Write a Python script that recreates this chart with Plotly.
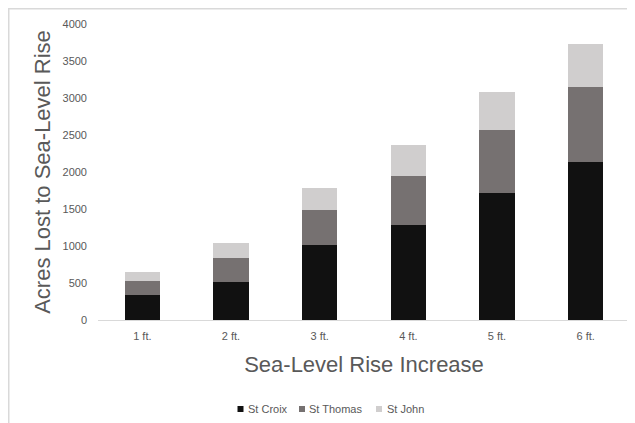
import plotly.graph_objects as go

categories = ["1 ft.", "2 ft.", "3 ft.", "4 ft.", "5 ft.", "6 ft."]
st_croix = [333, 513, 1013, 1279, 1711, 2130]
st_thomas = [191, 320, 477, 671, 860, 1014]
st_john = [121, 203, 298, 410, 513, 589]
y_ticks = [0, 500, 1000, 1500, 2000, 2500, 3000, 3500, 4000]

FONT = "Liberation Sans"
GRAY = "#595959"

series = [("St Croix", st_croix, "#111111"),
          ("St Thomas", st_thomas, "#767171"),
          ("St John", st_john, "#d0cece")]

fig = go.Figure()
for name, vals, col in series:
    fig.add_trace(go.Bar(x=categories, y=vals, name=name, marker_color=col,
                         marker_line_width=0, showlegend=False))

# figure is placed inside the page body (8px default margin)
W, H = 627, 415
L, R, T, B = 90, 5, 16, 103
pw = W - L - R
ph = H - T - B

fig.update_layout(
    template="none",
    width=W, height=H,
    barmode="stack", bargap=0.6,
    margin=dict(l=L, r=R, t=T, b=B),
    plot_bgcolor="white", paper_bgcolor="white",
    font=dict(family=FONT, color=GRAY, size=11),
    xaxis=dict(showgrid=False, showline=True, linecolor="#d9d9d9", linewidth=1,
               ticks="", tickfont=dict(size=11, color=GRAY), automargin=False,
               zeroline=False, ticklabelstandoff=6,
               title=dict(text="Sea-Level Rise Increase", font=dict(size=22, color=GRAY),
                          standoff=15)),
    yaxis=dict(range=[0, 4000], tickvals=y_ticks, showgrid=False, zeroline=False,
               showline=False, ticks="", tickfont=dict(size=11, color=GRAY),
               ticklabelstandoff=10, automargin=False,
               title=dict(text="Acres Lost to Sea-Level Rise", font=dict(size=22, color=GRAY),
                          standoff=5)),
    showlegend=False,
)

def px_x(px):
    return (px - L) / pw

def px_y(py):
    return (H - B - py) / ph

# chart border (top and left edges visible)
fig.add_shape(type="line", xref="paper", yref="paper",
              x0=px_x(0), x1=px_x(W), y0=px_y(0.75), y1=px_y(0.75),
              line=dict(color="#d9d9d9", width=1.5))
fig.add_shape(type="line", xref="paper", yref="paper",
              x0=px_x(0.75), x1=px_x(0.75), y0=px_y(0), y1=px_y(H),
              line=dict(color="#d9d9d9", width=1.5))

# legend: swatch + label
legend_sq_x = [232.5, 294, 371]
legend_tx_x = [237.5, 299, 376.5]
ly = 401
for (name, _, col), sx, tx in zip(series, legend_sq_x, legend_tx_x):
    fig.add_shape(type="rect", xref="paper", yref="paper",
                  x0=px_x(sx - 3), x1=px_x(sx + 3),
                  y0=px_y(ly + 3), y1=px_y(ly - 3),
                  fillcolor=col, line=dict(width=0))
    fig.add_annotation(xref="paper", yref="paper", x=px_x(tx), y=px_y(ly),
                       xanchor="left", yanchor="middle", text=name, showarrow=False,
                       font=dict(size=11, color=GRAY))

fig.write_html("out.html")
